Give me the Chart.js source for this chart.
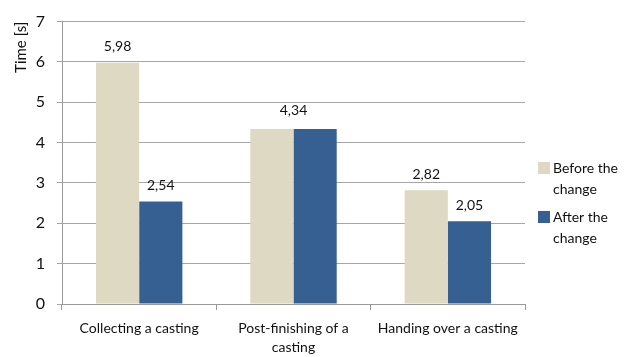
<!DOCTYPE html>
<html>
<head>
<meta charset="utf-8">
<script src="https://cdn.jsdelivr.net/npm/chart.js@4.4.0/dist/chart.umd.min.js"></script>
<style>
  html, body { margin: 0; padding: 0; background: #ffffff; }
  #wrap { position: relative; width: 636px; height: 357px; }
</style>
</head>
<body>
<div id="wrap"><canvas id="c" width="636" height="357"></canvas></div>
<script>
const categories = [["Collecting a casting"], ["Post-finishing of a", "casting"], ["Handing over a casting"]];
const seriesNames = [["Before the", "change"], ["After the", "change"]];
const beforeValues = [5.98, 4.34, 2.82];
const afterValues = [2.54, 4.34, 2.05];
const yTicks = [0, 1, 2, 3, 4, 5, 6, 7];
const yTitle = "Time [s]";

const FONT = "Lato, 'Open Sans', sans-serif";
const colors = ["#DDD9C3", "#366092"];
const TEXT = "#111";

const fmt = v => v.toFixed(2).replace(".", ",");

const valueLabels = {
  id: "valueLabels",
  afterDatasetsDraw(chart) {
    const ctx = chart.ctx;
    ctx.save();
    ctx.font = "14px " + FONT;
    ctx.fillStyle = TEXT;
    ctx.textAlign = "center";
    ctx.textBaseline = "middle";
    const m0 = chart.getDatasetMeta(0), m1 = chart.getDatasetMeta(1);
    const d0 = chart.data.datasets[0].data, d1 = chart.data.datasets[1].data;
    for (let i = 0; i < d0.length; i++) {
      const b0 = m0.data[i], b1 = m1.data[i];
      if (d0[i] === d1[i]) {
        ctx.fillText(fmt(d0[i]), (b0.x + b1.x) / 2, b0.y - 18);
      } else {
        ctx.fillText(fmt(d0[i]), b0.x, b0.y - 16);
        ctx.fillText(fmt(d1[i]), b1.x, b1.y - 16);
      }
    }
    ctx.restore();
  }
};

const sideLegend = {
  id: "sideLegend",
  afterDraw(chart) {
    const ctx = chart.ctx;
    ctx.save();
    ctx.font = "14px " + FONT;
    ctx.textAlign = "left";
    ctx.textBaseline = "middle";
    const tops = [162, 211];
    chart.data.datasets.forEach((ds, i) => {
      const y = tops[i];
      ctx.fillStyle = ds.backgroundColor;
      ctx.fillRect(538, y, 12, 12);
      ctx.fillStyle = TEXT;
      const lines = seriesNames[i];
      lines.forEach((t, j) => ctx.fillText(t, 553, y + 6 + j * 21));
    });
    ctx.restore();
  }
};

new Chart(document.getElementById("c"), {
  type: "bar",
  data: {
    labels: categories,
    datasets: [
      { label: seriesNames[0].join(" "), data: beforeValues, backgroundColor: colors[0], borderWidth: 0 },
      { label: seriesNames[1].join(" "), data: afterValues, backgroundColor: colors[1], borderWidth: 0 }
    ]
  },
  options: {
    responsive: false,
    animation: false,
    devicePixelRatio: 1,
    layout: { padding: { top: 15, right: 111, left: 12, bottom: 0 } },
    datasets: { bar: { categoryPercentage: 0.56, barPercentage: 1.0 } },
    plugins: {
      legend: { display: false },
      tooltip: { enabled: false }
    },
    scales: {
      x: {
        offset: true,
        grid: { offset: true, drawOnChartArea: false, drawTicks: true, tickLength: 6, color: "#9a9a9a" },
        border: { display: true, color: "#9a9a9a" },
        ticks: { font: { size: 14, family: FONT, lineHeight: 1.35 }, color: TEXT, padding: 9, maxRotation: 0, autoSkip: false },
        afterFit(s) { s.height = 53; }
      },
      y: {
        min: 0, max: 7,
        afterBuildTicks(s) { s.ticks = yTicks.map(v => ({ value: v })); },
        grid: { color: "#a6a6a6", tickLength: 5 },
        border: { display: true, color: "#9a9a9a" },
        ticks: { font: { size: 16, family: FONT }, color: TEXT, padding: 12 },
        title: { display: true, text: yTitle, align: "end", font: { size: 15, family: FONT }, color: TEXT, padding: { top: 0, bottom: 4 } },
        afterFit(s) { s.width = 50; }
      }
    }
  },
  plugins: [valueLabels, sideLegend]
});
</script>
</body>
</html>
